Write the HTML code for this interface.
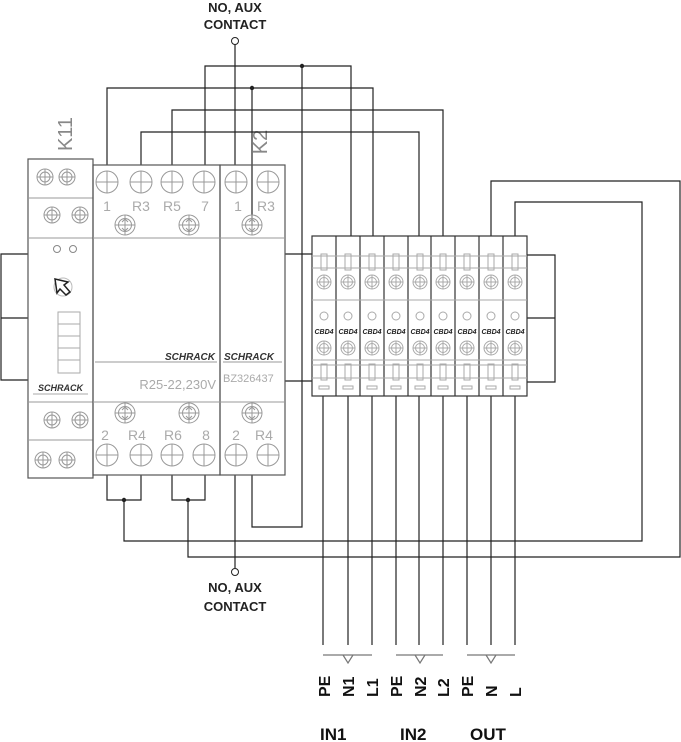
<!DOCTYPE html>
<html><head><meta charset="utf-8"><style>
html,body{margin:0;padding:0;background:#fff;}
svg{display:block;}
text{font-family:"Liberation Sans",sans-serif;}
</style></head><body>
<svg width="681" height="742" viewBox="0 0 681 742" xmlns="http://www.w3.org/2000/svg">
<defs>
<g id="scr" fill="none" stroke="#999" stroke-width="1">
<circle r="10"/><circle r="6.5"/><path d="M-10 0H10M0 -10V10M-3 -3L0 -6L3 -3M-3 3L0 6L3 3"/>
</g>
<g id="ss" fill="none" stroke="#999" stroke-width="1">
<circle r="8"/><circle r="5"/><path d="M-8 0H8M0 -8V8"/>
</g>
<g id="tc" fill="none" stroke="#999" stroke-width="1">
<circle r="11"/><path d="M-11 0H11M0 -11V11"/>
</g>
<g id="col" fill="none" stroke="#aaa" stroke-width="1">
<path d="M-12 256H12M-12 268H12M-12 300H12M-12 360H12M-12 365H12M-12 378H12"/>
<rect x="-3" y="254" width="6" height="16"/>
<rect x="-3" y="364" width="6" height="16"/>
<circle cy="282" r="7"/><circle cy="282" r="4.5"/><path d="M-7 282H7M0 275V289"/>
<circle cy="316" r="4"/>
<circle cy="348" r="7"/><circle cy="348" r="4.5"/><path d="M-7 348H7M0 341V355"/>
<rect x="-5" y="386" width="10" height="3"/>
</g>
</defs>

<!-- top labels -->
<text x="235" y="12" font-size="13" font-weight="bold" text-anchor="middle" fill="#222">NO, AUX</text>
<text x="235" y="29" font-size="13" font-weight="bold" text-anchor="middle" fill="#222">CONTACT</text>
<text x="235" y="592" font-size="13" font-weight="bold" text-anchor="middle" fill="#222">NO, AUX</text>
<text x="235" y="611" font-size="13" font-weight="bold" text-anchor="middle" fill="#222">CONTACT</text>

<text transform="translate(72,134) rotate(-90)" font-size="20" text-anchor="middle" fill="#888">K11</text>
<text transform="translate(267,142) rotate(-90)" font-size="20" text-anchor="middle" fill="#888">K2</text>

<!-- wiring -->
<g fill="none" stroke="#222" stroke-width="1.2">
<path d="M235 44V165"/>
<path d="M205 165V66H351V236"/>
<path d="M302 66V527H252V475"/>
<path d="M107 165V88H373V236"/>
<path d="M252 88V226"/>
<path d="M172 165V110H443V236"/>
<path d="M141 165V132H419V236"/>
<path d="M491 236V181H680V557H188V500"/>
<path d="M515 236V202H642V541H124V500"/>
<path d="M107 475V500H141V475"/>
<path d="M172 475V500H205V475"/>
<path d="M235 475V568"/>
<path d="M28 254H1V380H28M1 318H28"/>
<path d="M285 254H312M285 381H312"/>
<path d="M527 255H555V382H527M527 318H555"/>
<path d="M323 396V645M348 396V645M372 396V645M396 396V645M419 396V645M443 396V645M467 396V645M491 396V645M515 396V645"/>
</g>
<g fill="#222"><circle cx="302" cy="66" r="2.2"/><circle cx="252" cy="88" r="2.2"/><circle cx="124" cy="500" r="2.2"/><circle cx="188" cy="500" r="2.2"/></g>
<circle cx="235" cy="41" r="3.5" fill="#fff" stroke="#222" stroke-width="1"/>
<circle cx="235" cy="572" r="3.5" fill="#fff" stroke="#222" stroke-width="1"/>

<!-- ground brackets -->
<g fill="none" stroke="#777" stroke-width="1.2">
<path d="M323 655H372M343 655L348 663L353 655"/>
<path d="M396 655H443M415 655L420 663L425 655"/>
<path d="M467 655H515M486 655L491 663L496 655"/>
</g>
<g font-size="16" font-weight="bold" fill="#111">
<text transform="translate(330,697) rotate(-90)">PE</text>
<text transform="translate(354,697) rotate(-90)">N1</text>
<text transform="translate(378,697) rotate(-90)">L1</text>
<text transform="translate(402,697) rotate(-90)">PE</text>
<text transform="translate(426,697) rotate(-90)">N2</text>
<text transform="translate(449,697) rotate(-90)">L2</text>
<text transform="translate(473,697) rotate(-90)">PE</text>
<text transform="translate(497,697) rotate(-90)">N</text>
<text transform="translate(521,697) rotate(-90)">L</text>
</g>
<g font-size="17" font-weight="bold" fill="#111">
<text x="320" y="740">IN1</text><text x="400" y="740">IN2</text><text x="470" y="740">OUT</text>
</g>

<!-- K11 module -->
<rect x="28" y="159" width="65" height="319" fill="none" stroke="#555" stroke-width="1.2"/>
<g stroke="#999" stroke-width="1"><path d="M28 198H93M28 238H93M28 402H93M28 440H93"/></g>
<use href="#ss" x="45" y="177"/><use href="#ss" x="67" y="177"/>
<use href="#ss" x="52" y="215"/><use href="#ss" x="80" y="215"/>
<use href="#ss" x="52" y="420"/><use href="#ss" x="80" y="420"/>
<use href="#ss" x="43" y="460"/><use href="#ss" x="67" y="460"/>
<circle cx="57" cy="249" r="3.5" fill="none" stroke="#888"/><circle cx="73" cy="249" r="3.5" fill="none" stroke="#888"/>
<circle cx="63" cy="287" r="9" fill="none" stroke="#bbb"/>
<path d="M55 279L68 282L64 285L70 292L66 295L60 289L57 293Z" fill="#fff" stroke="#222" stroke-width="1.5"/>
<rect x="58" y="312" width="22" height="61" fill="none" stroke="#aaa"/>
<path d="M58 324H80M58 336H80M58 348H80M58 360H80" stroke="#aaa"/>
<text x="38" y="391" font-size="9" font-style="italic" font-weight="bold" fill="#333">SCHRACK</text>
<path d="M33 394H88" stroke="#aaa"/>

<!-- main relay -->
<rect x="93" y="165" width="127" height="310" fill="none" stroke="#555" stroke-width="1.2"/>
<rect x="220" y="165" width="65" height="310" fill="none" stroke="#555" stroke-width="1.2"/>
<g stroke="#999"><path d="M93 238H285M93 402H285M95 362H217M223 362H282"/></g>
<use href="#tc" x="107" y="182"/><use href="#tc" x="141" y="182"/><use href="#tc" x="172" y="182"/><use href="#tc" x="204" y="182"/><use href="#tc" x="236" y="182"/><use href="#tc" x="268" y="182"/>
<use href="#tc" x="107" y="455"/><use href="#tc" x="141" y="455"/><use href="#tc" x="172" y="455"/><use href="#tc" x="204" y="455"/><use href="#tc" x="236" y="455"/><use href="#tc" x="268" y="455"/>
<use href="#scr" x="125" y="225"/><use href="#scr" x="189" y="225"/><use href="#scr" x="252" y="225"/>
<use href="#scr" x="125" y="413"/><use href="#scr" x="189" y="413"/><use href="#scr" x="252" y="413"/>
<g font-size="14" fill="#aaa" text-anchor="middle">
<text x="107" y="211">1</text><text x="141" y="211">R3</text><text x="172" y="211">R5</text><text x="205" y="211">7</text><text x="238" y="211">1</text><text x="266" y="211">R3</text>
<text x="105" y="440">2</text><text x="137" y="440">R4</text><text x="173" y="440">R6</text><text x="206" y="440">8</text><text x="236" y="440">2</text><text x="264" y="440">R4</text>
</g>
<text x="215" y="360" font-size="10" font-style="italic" font-weight="bold" fill="#333" text-anchor="end">SCHRACK</text>
<text x="224" y="360" font-size="10" font-style="italic" font-weight="bold" fill="#333">SCHRACK</text>
<text x="216" y="389" font-size="13" fill="#aaa" text-anchor="end">R25-22,230V</text>
<text x="223" y="382" font-size="11" fill="#aaa">BZ326437</text>

<!-- CBD block -->
<rect x="312" y="236" width="215" height="160" fill="none" stroke="#333" stroke-width="1.2"/>
<path d="M336 236V396M360 236V396M384 236V396M408 236V396M431 236V396M455 236V396M479 236V396M503 236V396" stroke="#333" stroke-width="1.2"/>
<use href="#col" x="324"/><use href="#col" x="348"/><use href="#col" x="372"/><use href="#col" x="396"/><use href="#col" x="420"/><use href="#col" x="443"/><use href="#col" x="467"/><use href="#col" x="491"/><use href="#col" x="515"/>
<g font-size="7" font-style="italic" font-weight="bold" fill="#222" text-anchor="middle">
<text x="324" y="334">CBD4</text><text x="348" y="334">CBD4</text><text x="372" y="334">CBD4</text><text x="396" y="334">CBD4</text><text x="420" y="334">CBD4</text><text x="443" y="334">CBD4</text><text x="467" y="334">CBD4</text><text x="491" y="334">CBD4</text><text x="515" y="334">CBD4</text>
</g>
</svg>
</body></html>
